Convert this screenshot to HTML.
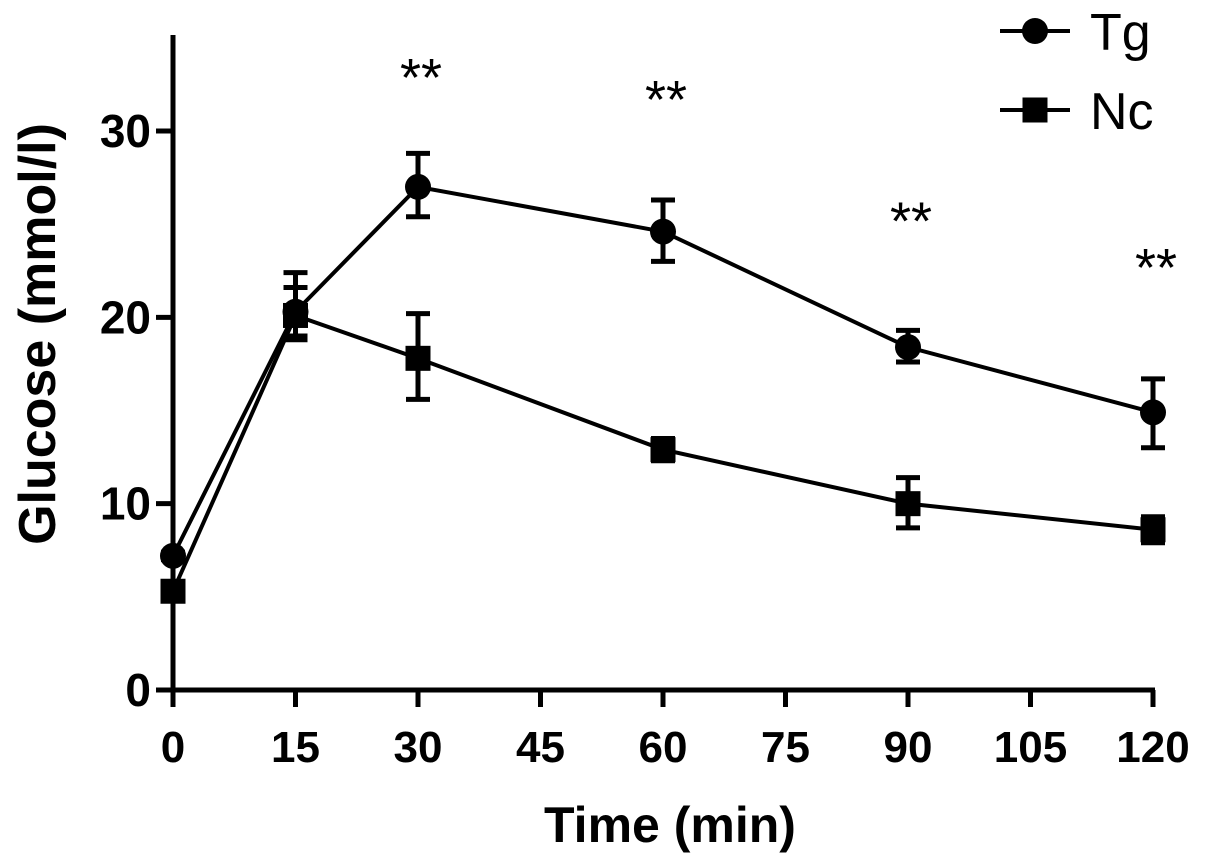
<!DOCTYPE html>
<html><head><meta charset="utf-8"><style>
html,body{margin:0;padding:0;background:#fff;}
svg{display:block;font-family:"Liberation Sans",Arial,sans-serif;}
</style></head><body>
<svg id="chart" width="1205" height="868" viewBox="0 0 1205 868" xmlns="http://www.w3.org/2000/svg"></svg>
<script>
const xTicks=[0,15,30,45,60,75,90,105,120];
const yTicks=[0,10,20,30];
const times=[0,15,30,60,90,120];
const tgMean=[7.2,20.3,27.0,24.6,18.4,14.9];
const tgLow=[7.0,19.0,25.4,23.0,17.6,13.0];
const tgHigh=[7.4,22.4,28.8,26.3,19.3,16.7];
const ncMean=[5.3,20.1,17.8,12.9,10.0,8.6];
const ncLow=[5.0,18.8,15.6,12.3,8.7,7.9];
const ncHigh=[5.6,21.6,20.2,13.5,11.4,9.3];
const sigTimes=[30,60,90,120];
const sigYs=[33.5,32.3,25.8,23.3];
const NS="http://www.w3.org/2000/svg";
const svg=document.getElementById('chart');
const X=v=>173+v*(1153-173)/120;
const Y=v=>690-v*(690-131)/30;
function mk(t,a,p){const e=document.createElementNS(NS,t);for(const k in a)e.setAttribute(k,a[k]);(p||svg).appendChild(e);return e;}
let e=mk('line',{x1:173,y1:35,x2:173,y2:692,stroke:'#000','stroke-width':5});


e=mk('line',{x1:171,y1:690,x2:1155,y2:690,stroke:'#000','stroke-width':5});


xTicks.forEach(t=>{
  let l=mk('line',{x1:X(t),y1:690,x2:X(t),y2:707,stroke:'#000','stroke-width':5});
  
  
  let s=mk('text',{x:X(t),y:762,'text-anchor':'middle','font-size':44,'font-weight':'bold'});s.textContent=t;
  
  
});
yTicks.forEach(t=>{
  let l=mk('line',{x1:156,y1:Y(t),x2:173,y2:Y(t),stroke:'#000','stroke-width':5});
  
  
  let s=mk('text',{x:151,y:Y(t)+16,'text-anchor':'end','font-size':46,'font-weight':'bold'});s.textContent=t;
  
  
});
e=mk('text',{x:670,y:842,'text-anchor':'middle','font-size':50,'font-weight':'bold'});e.textContent='Time (min)';


e=mk('text',{x:0,y:0,'text-anchor':'middle','font-size':52,'font-weight':'bold',transform:'translate(55,334) rotate(-90)'});e.textContent='Glucose (mmol/l)';


function series(name,mean,low,high,shape){
  const g=mk('g',{});
  
  
  mk('polyline',{points:times.map((t,i)=>X(t)+','+Y(mean[i])).join(' '),fill:'none',stroke:'#000','stroke-width':4},g);
  times.forEach((t,i)=>{
    const x=X(t);
    let eb=mk('path',{d:`M${x},${Y(low[i])}V${Y(high[i])}M${x-12},${Y(low[i])}H${x+12}M${x-12},${Y(high[i])}H${x+12}`,stroke:'#000','stroke-width':5,fill:'none'},g);
    
    
    let m;
    if(shape==='circle')m=mk('circle',{cx:x,cy:Y(mean[i]),r:13,fill:'#000'},g);
    else m=mk('rect',{x:x-12.5,y:Y(mean[i])-12.5,width:25,height:25,fill:'#000'},g);
    
    
  });
}
series('nc',ncMean,ncLow,ncHigh,'square');
series('tg',tgMean,tgLow,tgHigh,'circle');
sigTimes.forEach((t,i)=>{
  let s=mk('text',{x:X(t)+3,y:Y(sigYs[i])+30,'text-anchor':'middle','font-size':54});s.textContent='**';
  
  
});
e=mk('g',{});


mk('line',{x1:1000,y1:31,x2:1070,y2:31,stroke:'#000','stroke-width':4},e);
mk('circle',{cx:1035,cy:31,r:13,fill:'#000'},e);
let t1=mk('text',{x:1090,y:50,'font-size':52},e);t1.textContent='Tg';


mk('line',{x1:1000,y1:110,x2:1070,y2:110,stroke:'#000','stroke-width':4},e);
mk('rect',{x:1022.5,y:97.5,width:25,height:25,fill:'#000'},e);
let t2=mk('text',{x:1090,y:129,'font-size':52},e);t2.textContent='Nc';


</script>
</body></html>
